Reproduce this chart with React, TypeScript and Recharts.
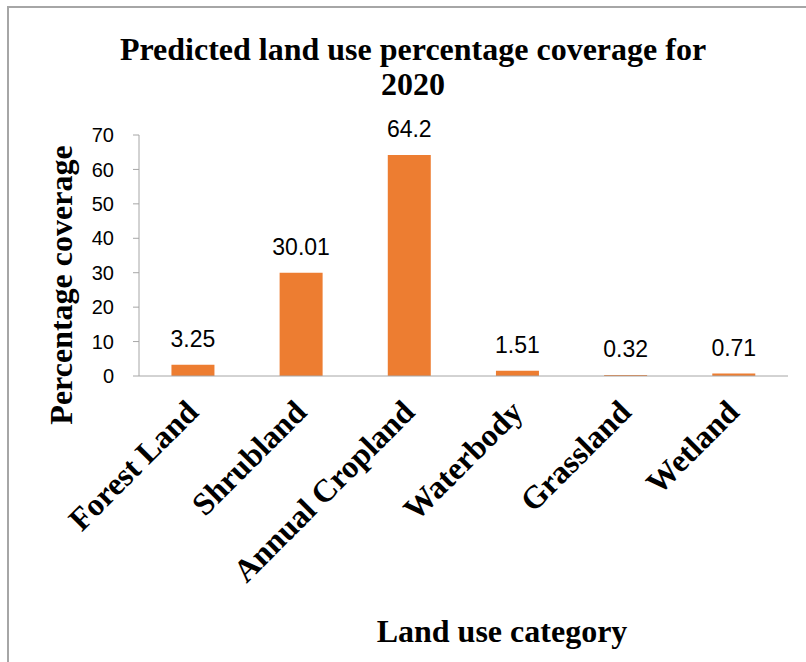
import React from "react"
import { BarChart, Bar, XAxis, YAxis, LabelList } from "recharts"

const categories = ["Forest Land", "Shrubland", "Annual Cropland", "Waterbody", "Grassland", "Wetland"]
const coverage = [3.25, 30.01, 64.2, 1.51, 0.32, 0.71]
const yTicks = [0, 10, 20, 30, 40, 50, 60, 70]

const data = categories.map((name, i) => ({ name, value: coverage[i] }))

const SERIF = '"Liberation Serif", "Times New Roman", serif'
const SANS = '"Liberation Sans", Arial, sans-serif'
const AXIS_COLOR = "#a6a6a6"
const BAR_COLOR = "#ed7d31"

function CategoryTick({ x, y, payload }: any) {
  return (
    <text
      transform={`translate(${x + 7},${y + 38}) rotate(-45)`}
      textAnchor="end"
      fontFamily={SERIF}
      fontWeight="bold"
      fontSize={32}
      fill="#000"
    >
      {payload.value}
    </text>
  )
}

export default function App() {
  return (
    <div style={{ position: "absolute", left: 0, top: 0, width: 806, height: 662, overflow: "hidden", background: "#fff" }}>
      <div
        style={{
          position: "absolute",
          left: 7,
          top: 6,
          width: 830,
          height: 700,
          border: "2px solid #a6a6a6",
        }}
      />
      <BarChart
        width={806}
        height={662}
        data={data}
        margin={{ top: 135, right: 18, left: 0, bottom: 256 }}
        barCategoryGap="30%"
        style={{ position: "absolute", left: 0, top: 0 }}
      >
        <XAxis
          dataKey="name"
          height={30}
          interval={0}
          tickLine={false}
          tickSize={0}
          tickMargin={0}
          stroke={AXIS_COLOR}
          tick={<CategoryTick />}
        />
        <YAxis
          width={139}
          domain={[0, 70]}
          ticks={yTicks}
          interval={0}
          tickSize={6}
          tickMargin={19}
          stroke={AXIS_COLOR}
          tick={{ fill: "#000", fontSize: 20, fontFamily: SANS }}
        />
        <Bar dataKey="value" fill={BAR_COLOR} isAnimationActive={false}>
          <LabelList
            dataKey="value"
            position="top"
            offset={18}
            fill="#000"
            fontSize={23}
            fontFamily={SANS}
          />
        </Bar>
      </BarChart>
      <svg width={806} height={662} style={{ position: "absolute", left: 0, top: 0, pointerEvents: "none" }}>
        <g fontFamily={SERIF} fontWeight="bold" fontSize={32} fill="#000" textAnchor="middle">
          <text x={413} y={60}>Predicted land use percentage coverage for</text>
          <text x={413} y={95}>2020</text>
          <text x={502} y={642}>Land use category</text>
          <text transform="translate(72,285) rotate(-90)">Percentage coverage</text>
        </g>
      </svg>
    </div>
  )
}
